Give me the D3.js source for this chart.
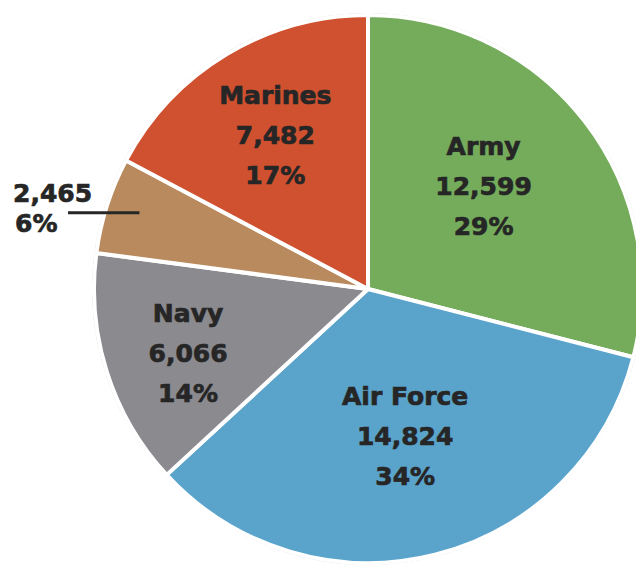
<!DOCTYPE html>
<html>
<head>
<meta charset="utf-8">
<style>
  body { margin: 0; background: #fff; }
  svg text { font-family: "DejaVu Sans", sans-serif; font-weight: bold; fill: #262626; stroke: #262626; stroke-width: 0.7px; }
</style>
</head>
<body>
<script src="https://cdn.jsdelivr.net/npm/d3@7"></script>
<script>
// chart data
var branches = ["Army", "Air Force", "Navy", "Other", "Marines"];
var counts = [12599, 14824, 6066, 2465, 7482];
var percents = ["29%", "34%", "14%", "6%", "17%"];
var colors = ["#74ac5b", "#5aa4cc", "#8a8a8f", "#b98a5d", "#cf512f"];

var width = 636, height = 565;
var cx = 368, cy = 289, radius = 274;

// label placement: distance from centre and angle nudge (degrees)
var labelRadius = [155, 152, 191, 240, 180];
var labelNudge = [-4, 0, -2, 0, 0];

var svg = d3.select("body").append("svg")
    .attr("width", width)
    .attr("height", height);

var g = svg.append("g").attr("transform", "translate(" + cx + "," + cy + ")");

var items = branches.map(function(b, i) {
    return { name: b, value: counts[i], pct: percents[i], color: colors[i], i: i };
});

var pie = d3.pie().sort(null).value(function(d) { return d.value; });
var arcs = pie(items);

var arc = d3.arc().innerRadius(0).outerRadius(radius);

g.append("circle")
    .attr("r", radius + 1.5)
    .attr("fill", "none")
    .attr("stroke", "#d6d6d6")
    .attr("stroke-width", 1);

g.selectAll("path.slice")
    .data(arcs)
    .enter()
    .append("path")
    .attr("class", "slice")
    .attr("d", arc)
    .attr("fill", function(d) { return d.data.color; })
    .attr("stroke", "#fff")
    .attr("stroke-width", 4)
    .attr("stroke-linejoin", "round");

function labelPos(d) {
    var r = labelRadius[d.data.i];
    var a = (d.startAngle + d.endAngle) / 2 + labelNudge[d.data.i] * Math.PI / 180;
    return [r * Math.sin(a), -r * Math.cos(a)];
}

var lineGap = 40;

// labels inside the big slices
var inside = g.selectAll("g.lbl")
    .data(arcs.filter(function(d) { return d.data.name !== "Other"; }))
    .enter()
    .append("g")
    .attr("class", "lbl")
    .attr("transform", function(d) {
        var p = labelPos(d);
        return "translate(" + p[0] + "," + p[1] + ")";
    });

inside.each(function(d) {
    var t = d3.select(this);
    var lines = [d.data.name, d3.format(",")(d.data.value), d.data.pct];
    lines.forEach(function(s, k) {
        t.append("text")
            .attr("text-anchor", "middle")
            .attr("y", (k - 1) * lineGap + 9)
            .attr("font-size", 25)
            .text(s);
    });
});

// small slice: label outside with a leader line
var other = arcs.filter(function(d) { return d.data.name === "Other"; })[0];
var end = labelPos(other);
var lineStartX = 68 - cx;

g.append("line")
    .attr("x1", lineStartX)
    .attr("x2", end[0])
    .attr("y1", end[1] - 3)
    .attr("y2", end[1] - 3)
    .attr("stroke", "#262626")
    .attr("stroke-width", 3);

g.append("text")
    .attr("x", 13 - cx)
    .attr("y", end[1] - 14)
    .attr("font-size", 25)
    .text(d3.format(",")(other.data.value));

g.append("text")
    .attr("x", 15 - cx)
    .attr("y", end[1] + 16)
    .attr("font-size", 25)
    .text(other.data.pct);
</script>
</body>
</html>
